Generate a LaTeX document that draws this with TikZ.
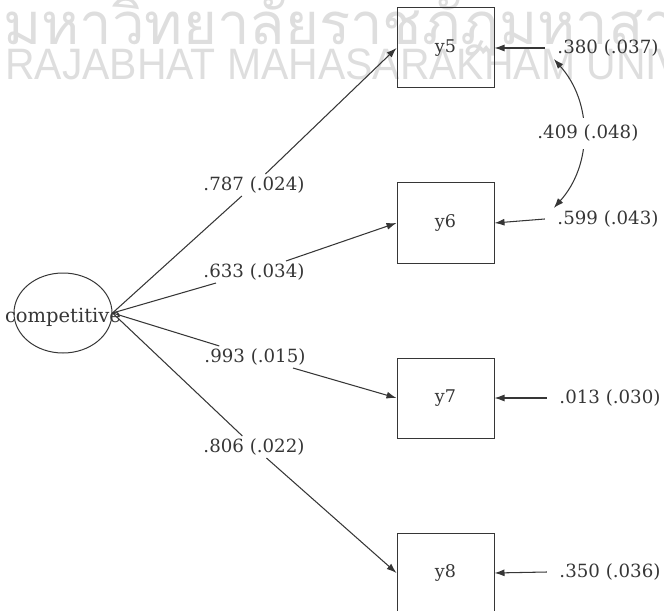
\documentclass[tikz,border=0pt]{standalone}
\usepackage{fontspec}
\setmainfont{DejaVu Serif}
\newfontfamily\thaiwm[Script=Thai]{Loma}
\newfontfamily\latinwm[FakeStretch=0.93]{Liberation Sans}
\usetikzlibrary{arrows.meta,shapes.geometric}

\definecolor{ink}{HTML}{363636}
\definecolor{wmark}{HTML}{DEDEDE}

\tikzset{
  obsbox/.style={draw=ink, line width=1bp, minimum width=97bp, minimum height=80bp,
    inner sep=0pt, text=ink, font=\fontsize{17.5bp}{20bp}\selectfont},
  latent/.style={ellipse, draw=ink, line width=1bp, minimum width=98bp,
    minimum height=80bp, inner sep=0pt},
  coef/.style={inner xsep=1.5bp, inner ysep=2.5bp, text=ink,
    font=\fontsize{18.2bp}{20bp}\selectfont},
  link/.style={draw=ink, line width=1.05bp},
  arr/.style={link, -{Latex[length=10bp,width=7bp]}},
  darr/.style={link, {Latex[length=10bp,width=7bp]}-{Latex[length=10bp,width=7bp]}},
  wm/.style={anchor=base west, inner sep=0pt, text=wmark},
}

\begin{document}
\begin{tikzpicture}[x=1bp,y=-1bp]
\useasboundingbox (0,0) rectangle (664,611);
\clip (0,0) rectangle (664,611);

% watermark behind the diagram
\node[wm, font=\thaiwm\fontsize{58bp}{60bp}\selectfont] (wth) at (3,45)
  {มหาวิทยาลัยราชภัฏมหาสารคาม};
\node[wm, font=\latinwm\fontsize{44bp}{46bp}\selectfont] (wen) at (5,80)
  {RAJABHAT MAHASARAKHAM UNIVERSITY};

% latent factor
\node[latent] (c) at (63,313) {};
\node[coef, inner sep=0pt, font=\fontsize{19.5bp}{21bp}\selectfont] (ct) at (63,317) {competitive};

% indicators
\node[obsbox] (y5) at (445.5,48) {y5};
\node[obsbox] (y6) at (445.5,223) {y6};
\node[obsbox] (y7) at (445.5,398) {y7};
\node[obsbox] (y8) at (445.5,573) {y8};

% loadings
\node[coef] (l5) at (254,185) {.787 (.024)};
\node[coef] (l6) at (254,272) {.633 (.034)};
\node[coef] (l7) at (255,357) {.993 (.015)};
\node[coef] (l8) at (254,447) {.806 (.022)};

\draw[link] (c.east) -- (l5);  \draw[arr] (l5) -- (y5.west);
\draw[link] (c.east) -- (l6);  \draw[arr] (l6) -- (y6.west);
\draw[link] (c.east) -- (l7);  \draw[arr] (l7) -- (y7.west);
\draw[link] (c.east) -- (l8);  \draw[arr] (l8) -- (y8.west);

% residual variances
\node[coef] (e5) at (608,48) {.380 (.037)};
\node[coef] (e6) at (608,219) {.599 (.043)};
\node[coef] (e7) at (610,398) {.013 (.030)};
\node[coef] (e8) at (610,572) {.350 (.036)};

\draw[arr] ([xshift=-11bp]e5.west) -- (y5.east);
\draw[arr] ([xshift=-11bp]e6.west) -- (y6.east);
\draw[arr] ([xshift=-11bp]e7.west) -- (y7.east);
\draw[arr] ([xshift=-11bp]e8.west) -- (y8.east);

% residual covariance
\draw[darr] ([xshift=-2bp]e5.south west) to[bend left=42]
  node[coef, fill=white, xshift=5bp, inner ysep=7bp] (r56) {.409 (.048)}
  ([xshift=-2bp]e6.north west);
\end{tikzpicture}
\end{document}
